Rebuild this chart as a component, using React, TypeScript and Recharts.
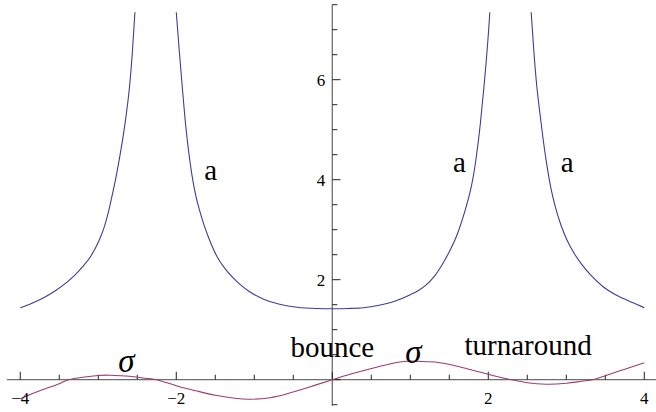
import React from 'react';
import { LineChart, Line, XAxis, YAxis, ReferenceLine, ReferenceDot } from 'recharts';

// Scale factor a(t): three branches separated by singularities.
const aLeft = [
  { t: -4.0, a: 1.44 },
  { t: -3.85, a: 1.53 },
  { t: -3.7, a: 1.64 },
  { t: -3.55, a: 1.78 },
  { t: -3.4, a: 1.95 },
  { t: -3.3, a: 2.09 },
  { t: -3.2, a: 2.26 },
  { t: -3.1, a: 2.46 },
  { t: -3.0, a: 2.75 },
  { t: -2.93, a: 3.02 },
  { t: -2.87, a: 3.35 },
  { t: -2.82, a: 3.7 },
  { t: -2.77, a: 4.07 },
  { t: -2.72, a: 4.5 },
  { t: -2.68, a: 4.88 },
  { t: -2.64, a: 5.32 },
  { t: -2.6, a: 5.85 },
  { t: -2.565, a: 6.5 },
  { t: -2.53, a: 7.35 },
];

const aMiddle = [
  { t: -2.0, a: 7.35 },
  { t: -1.96, a: 6.55 },
  { t: -1.92, a: 5.8 },
  { t: -1.88, a: 5.1 },
  { t: -1.84, a: 4.55 },
  { t: -1.8, a: 4.1 },
  { t: -1.75, a: 3.68 },
  { t: -1.7, a: 3.38 },
  { t: -1.65, a: 3.12 },
  { t: -1.58, a: 2.82 },
  { t: -1.48, a: 2.47 },
  { t: -1.38, a: 2.23 },
  { t: -1.28, a: 2.05 },
  { t: -1.18, a: 1.9 },
  { t: -1.05, a: 1.75 },
  { t: -0.88, a: 1.61 },
  { t: -0.7, a: 1.52 },
  { t: -0.45, a: 1.45 },
  { t: -0.2, a: 1.425 },
  { t: 0.0, a: 1.42 },
  { t: 0.2, a: 1.425 },
  { t: 0.4, a: 1.44 },
  { t: 0.6, a: 1.49 },
  { t: 0.8, a: 1.57 },
  { t: 1.0, a: 1.7 },
  { t: 1.1, a: 1.78 },
  { t: 1.2, a: 1.89 },
  { t: 1.3, a: 2.05 },
  { t: 1.4, a: 2.28 },
  { t: 1.5, a: 2.56 },
  { t: 1.6, a: 2.9 },
  { t: 1.7, a: 3.37 },
  { t: 1.75, a: 3.65 },
  { t: 1.8, a: 4.0 },
  { t: 1.85, a: 4.5 },
  { t: 1.9, a: 5.15 },
  { t: 1.95, a: 5.95 },
  { t: 2.0, a: 6.9 },
  { t: 2.02, a: 7.35 },
];

const aRight = [
  { t: 2.55, a: 7.35 },
  { t: 2.585, a: 6.55 },
  { t: 2.62, a: 5.9 },
  { t: 2.66, a: 5.35 },
  { t: 2.7, a: 4.85 },
  { t: 2.75, a: 4.3 },
  { t: 2.8, a: 3.85 },
  { t: 2.86, a: 3.45 },
  { t: 2.93, a: 3.1 },
  { t: 3.01, a: 2.79 },
  { t: 3.1, a: 2.53 },
  { t: 3.2, a: 2.3 },
  { t: 3.32, a: 2.08 },
  { t: 3.48, a: 1.85 },
  { t: 3.62, a: 1.71 },
  { t: 3.78, a: 1.59 },
  { t: 3.9, a: 1.51 },
  { t: 4.0, a: 1.44 },
];

// Shear sigma(t)
const sigma = [
  { t: -4.0, s: -0.38 },
  { t: -3.75, s: -0.22 },
  { t: -3.5, s: -0.08 },
  { t: -3.38, s: 0.0 },
  { t: -3.2, s: 0.05 },
  { t: -3.0, s: 0.085 },
  { t: -2.85, s: 0.09 },
  { t: -2.6, s: 0.07 },
  { t: -2.4, s: 0.03 },
  { t: -2.25, s: 0.0 },
  { t: -2.0, s: -0.12 },
  { t: -1.75, s: -0.22 },
  { t: -1.5, s: -0.31 },
  { t: -1.25, s: -0.37 },
  { t: -1.05, s: -0.39 },
  { t: -0.8, s: -0.36 },
  { t: -0.58, s: -0.28 },
  { t: -0.3, s: -0.15 },
  { t: 0.0, s: 0.0 },
  { t: 0.25, s: 0.12 },
  { t: 0.49, s: 0.22 },
  { t: 0.75, s: 0.32 },
  { t: 0.96, s: 0.37 },
  { t: 1.2, s: 0.36 },
  { t: 1.38, s: 0.34 },
  { t: 1.6, s: 0.27 },
  { t: 1.8, s: 0.19 },
  { t: 2.0, s: 0.11 },
  { t: 2.15, s: 0.05 },
  { t: 2.3, s: 0.0 },
  { t: 2.5, s: -0.06 },
  { t: 2.74, s: -0.09 },
  { t: 3.0, s: -0.07 },
  { t: 3.2, s: -0.03 },
  { t: 3.34, s: 0.0 },
  { t: 3.5, s: 0.08 },
  { t: 3.75, s: 0.21 },
  { t: 4.0, s: 0.34 },
];

// Axis ticks
const xTicksMajor = [-4, -2, 0, 2, 4];
const xTicksMinor = [-3.5, -3, -2.5, -1.5, -1, -0.5, 0.5, 1, 1.5, 2.5, 3, 3.5];
const xTickLabels = [-4, -2, 2, 4];
const yTicksMajor = [0, 2, 4, 6];
const yTicksMinor = [-0.5, 0.5, 1, 1.5, 2.5, 3, 3.5, 4.5, 5, 5.5, 6.5, 7, 7.5];
const yTickLabels = [2, 4, 6];

// Curve annotations (anchor = baseline centre)
const annotations = [
  { text: 'a', t: -1.56, v: 3.99, italic: false, size: 29 },
  { text: 'a', t: 1.63, v: 4.16, italic: false, size: 29 },
  { text: 'a', t: 3.01, v: 4.16, italic: false, size: 29 },
  { text: 'bounce', t: 0.0, v: 0.446, italic: false, size: 29 },
  { text: 'turnaround', t: 2.51, v: 0.486, italic: false, size: 29 },
  { text: 'σ', t: -2.64, v: 0.146, italic: true, size: 33 },
  { text: 'σ', t: 1.04, v: 0.326, italic: true, size: 33 },
];

const X_DOMAIN: [number, number] = [-4.17, 4.15];
const Y_DOMAIN: [number, number] = [-0.52, 7.5];

const BLUE = '#3d3d99';
const PURPLE = '#993d71';
const AXIS = '#6e6e6e';
const TICK = '#222';
const FONT = 'Liberation Serif, Times New Roman, serif';

// Tick length in data units
const X_TICK_MAJOR = 0.16;
const X_TICK_MINOR = 0.1;
const Y_TICK_MAJOR = 0.105;
const Y_TICK_MINOR = 0.065;
const X_LABEL_V = -0.494;
const Y_LABEL_T = -0.09;

export default function App() {
  return (
    <div style={{ position: 'absolute', left: 0, top: 0, width: 656, height: 412, background: '#fff' }}>
      <LineChart width={656} height={412} margin={{ top: 4.7, right: 0, bottom: 6.3, left: 7 }}>
        <XAxis dataKey="t" type="number" domain={X_DOMAIN} allowDataOverflow hide />
        <YAxis type="number" domain={Y_DOMAIN} allowDataOverflow hide />

        <ReferenceLine y={0} stroke={AXIS} strokeWidth={1.3} />
        <ReferenceLine x={0} stroke={AXIS} strokeWidth={1.3} />

        {xTicksMajor.map((t) => (
          <ReferenceLine key={`xM${t}`} segment={[{ x: t, y: 0 }, { x: t, y: X_TICK_MAJOR }]} stroke={TICK} strokeWidth={1} />
        ))}
        {xTicksMinor.map((t) => (
          <ReferenceLine key={`xm${t}`} segment={[{ x: t, y: 0 }, { x: t, y: X_TICK_MINOR }]} stroke={TICK} strokeWidth={1} />
        ))}
        {yTicksMajor.map((v) => (
          <ReferenceLine key={`yM${v}`} segment={[{ x: 0, y: v }, { x: Y_TICK_MAJOR, y: v }]} stroke={TICK} strokeWidth={1} />
        ))}
        {yTicksMinor.map((v) => (
          <ReferenceLine key={`ym${v}`} segment={[{ x: 0, y: v }, { x: Y_TICK_MINOR, y: v }]} stroke={TICK} strokeWidth={1} />
        ))}

        {xTickLabels.map((t) => (
          <ReferenceDot
            key={`xl${t}`}
            x={t}
            y={X_LABEL_V}
            r={1}
            shape={(p: any) => (
              <text x={p.cx} y={p.cy} textAnchor="middle" fontFamily={FONT} style={{ fontFamily: FONT }} fontSize={17} fill="#000">
                {t < 0 ? `\u2212${Math.abs(t)}` : `${t}`}
              </text>
            )}
          />
        ))}
        {yTickLabels.map((v) => (
          <ReferenceDot
            key={`yl${v}`}
            x={Y_LABEL_T}
            y={v}
            r={1}
            shape={(p: any) => (
              <text x={p.cx} y={p.cy} dy={6.5} textAnchor="end" fontFamily={FONT} style={{ fontFamily: FONT }} fontSize={17} fill="#000">
                {v}
              </text>
            )}
          />
        ))}

        <Line data={aLeft} dataKey="a" type="monotone" stroke={BLUE} strokeWidth={1.1} dot={false} isAnimationActive={false} />
        <Line data={aMiddle} dataKey="a" type="monotone" stroke={BLUE} strokeWidth={1.1} dot={false} isAnimationActive={false} />
        <Line data={aRight} dataKey="a" type="monotone" stroke={BLUE} strokeWidth={1.1} dot={false} isAnimationActive={false} />
        <Line data={sigma} dataKey="s" type="natural" stroke={PURPLE} strokeWidth={1.1} dot={false} isAnimationActive={false} />

        {annotations.map((n, i) => (
          <ReferenceDot
            key={`n${i}`}
            x={n.t}
            y={n.v}
            r={1}
            shape={(p: any) => (
              <text
                x={p.cx}
                y={p.cy}
                textAnchor="middle"
                fontFamily={FONT}
                style={{ fontFamily: FONT }}
                fontStyle={n.italic ? 'italic' : 'normal'}
                fontSize={n.size}
                fill="#000"
              >
                {n.text}
              </text>
            )}
          />
        ))}
      </LineChart>
    </div>
  );
}
